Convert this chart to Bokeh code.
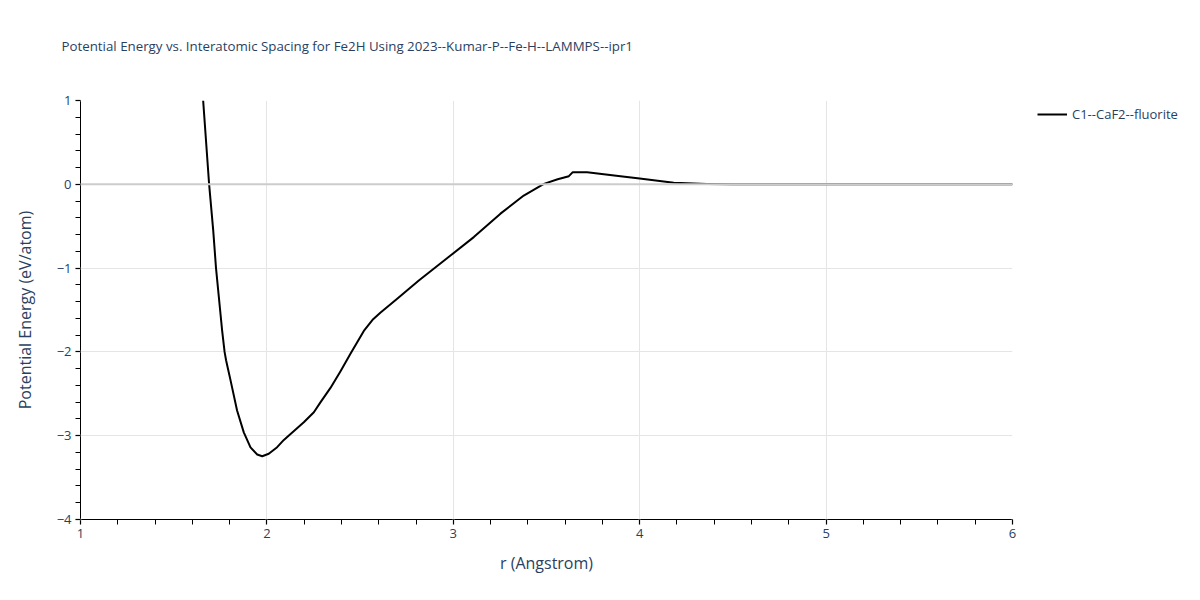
from bokeh.plotting import figure
from bokeh.layouts import column, row
from bokeh.models import Legend, LegendItem, Span, Range1d, FixedTicker
from bokeh.core.properties import value
from bokeh.embed import file_html
from bokeh.resources import INLINE

r_vals = [1.658, 1.690, 1.712, 1.727, 1.749, 1.760, 1.773, 1.781, 1.789, 1.805, 1.84, 1.876,
          1.912, 1.948, 1.975, 2.01, 2.055, 2.091, 2.127, 2.198, 2.252, 2.288, 2.341, 2.395,
          2.449, 2.52, 2.57, 2.61, 2.699, 2.815, 2.985, 3.11, 3.253, 3.378, 3.486, 3.56,
          3.62, 3.641, 3.718, 3.897, 4.0, 4.183, 4.36, 4.5, 5.0, 5.5, 6.0]
e_vals = [1.0, 0.0, -0.55, -1.0, -1.5, -1.75, -2.0, -2.1, -2.18, -2.34, -2.70, -2.96,
          -3.14, -3.225, -3.245, -3.216, -3.137, -3.05, -2.98, -2.84, -2.72, -2.60, -2.43, -2.23,
          -2.02, -1.75, -1.61, -1.53, -1.366, -1.148, -0.85, -0.63, -0.35, -0.134, 0.005, 0.06,
          0.097, 0.145, 0.145, 0.097, 0.07, 0.018, 0.005, 0.0, 0.0, 0.0, 0.0]
series_name = "C1--CaF2--fluorite"
title_text = "Potential Energy vs. Interatomic Spacing for Fe2H Using 2023--Kumar-P--Fe-H--LAMMPS--ipr1"
x_label = "r (Angstrom)"
y_label = "Potential Energy (eV/atom)"

FONT = "Open Sans"
TXT = "#2a3f5f"
W_MAIN, W_LEG, H_TOP, H_MAIN = 1030, 154, 92, 492


def bare(fig):
    fig.axis.visible = False
    fig.grid.grid_line_color = None
    fig.outline_line_color = None
    fig.min_border = 0
    return fig


# title strip
tfig = bare(figure(width=W_MAIN + W_LEG, height=H_TOP, output_backend="svg",
                   toolbar_location=None, x_range=Range1d(0, W_MAIN + W_LEG),
                   y_range=Range1d(0, H_TOP)))
tfig.text(x=[61], y=[47], text=[title_text], text_font=value(FONT), text_font_size="13.3px",
          text_color=TXT, text_baseline="middle", text_align="left")

# main plot
p = figure(width=W_MAIN, height=H_MAIN, output_backend="svg", toolbar_location=None,
           x_range=Range1d(1, 6), y_range=Range1d(-4, 1),
           min_border_left=80, min_border_right=18, min_border_top=8, min_border_bottom=65)
p.outline_line_color = None
p.background_fill_color = "white"

zero = Span(location=0, dimension="width", line_color="#cccccc", line_width=2)
p.add_layout(zero)

ln = p.line(r_vals, e_vals, line_color="black", line_width=2, line_join="round")

for ax in (p.xaxis[0], p.yaxis[0]):
    ax.axis_line_color = "black"
    ax.axis_line_width = 1
    ax.major_tick_line_color = "#cccccc"
    ax.major_tick_line_width = 2
    ax.major_tick_out = 5
    ax.major_tick_in = 0
    ax.minor_tick_line_color = "black"
    ax.minor_tick_out = 5
    ax.minor_tick_in = 0
    ax.major_label_text_font = FONT
    ax.major_label_text_font_size = "13px"
    ax.major_label_text_color = TXT
    ax.axis_label_text_font = FONT
    ax.axis_label_text_font_size = "16px"
    ax.axis_label_text_color = TXT
    ax.axis_label_text_font_style = "normal"

p.xaxis[0].ticker = FixedTicker(ticks=[1, 2, 3, 4, 5, 6],
                                minor_ticks=[1 + 0.2 * i for i in range(26)])
p.yaxis[0].ticker = FixedTicker(ticks=[-4, -3, -2, -1, 0, 1],
                                minor_ticks=[-4 + 0.2 * i for i in range(26)])
p.xaxis[0].axis_label = x_label
p.yaxis[0].axis_label = y_label
p.xaxis[0].major_label_standoff = 4
p.yaxis[0].major_label_standoff = 4
p.xaxis[0].axis_label_standoff = 11
p.yaxis[0].axis_label_standoff = 18

p.xgrid.grid_line_color = "#e5e5e5"
p.ygrid.grid_line_color = "#e5e5e5"
p.xgrid.ticker = FixedTicker(ticks=[2, 3, 4, 5])
p.ygrid.ticker = FixedTicker(ticks=[-3, -2, -1])
p.xgrid.grid_line_width = 1
p.ygrid.grid_line_width = 1

# legend strip (its own small figure, so the legend is not clipped by the main frame)
lfig = bare(figure(width=W_LEG, height=H_MAIN, output_backend="svg", toolbar_location=None,
                   x_range=Range1d(0, W_LEG), y_range=Range1d(0, H_MAIN)))
proxy = lfig.line(x=[-20, -10], y=[-20, -20], line_color="black", line_width=2)
legend = Legend(items=[LegendItem(label=series_name, renderers=[proxy])],
                location=(7, 396), label_text_font=FONT, label_text_font_size="13px",
                label_text_color=TXT, glyph_width=30, glyph_height=18, padding=0,
                margin=0, border_line_color=None, background_fill_alpha=0,
                label_standoff=5)
lfig.add_layout(legend, "center")

layout = column(tfig, row(p, lfig, spacing=0), spacing=0)
open("out.html", "w").write(file_html(layout, INLINE))
